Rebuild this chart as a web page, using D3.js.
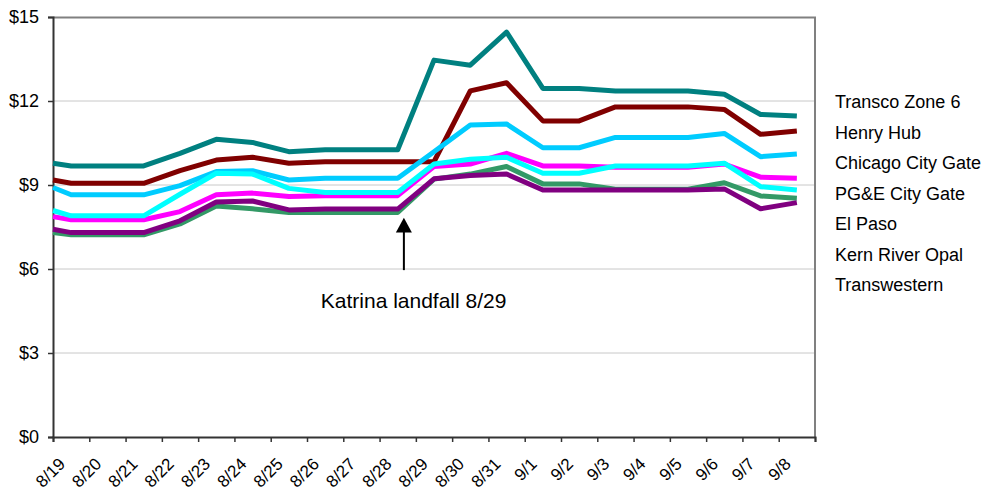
<!DOCTYPE html>
<html>
<head>
<meta charset="utf-8">
<script src="https://cdnjs.cloudflare.com/ajax/libs/d3/7.8.5/d3.min.js"></script>
<style>
  body { margin: 0; background: #fff; }
  text { font-family: "Liberation Sans", Arial, sans-serif; fill: #000; }
</style>
</head>
<body>
<div id="chart"></div>
<script>
// daily spot prices, $/MMBtu. first value in each series is the carry-in at the axis edge
const dates = ['8/19', '8/20', '8/21', '8/22', '8/23', '8/24', '8/25', '8/26', '8/27', '8/28',
  '8/29', '8/30', '8/31', '9/1', '9/2', '9/3', '9/4', '9/5', '9/6', '9/7', '9/8'];

const transco = [9.78, 9.68, 9.68, 9.68, 10.13, 10.63, 10.52, 10.19, 10.26, 10.26, 10.26,
  13.46, 13.28, 14.46, 12.45, 12.45, 12.36, 12.36, 12.36, 12.24, 11.52, 11.46];
const henryHub = [9.18, 9.06, 9.06, 9.06, 9.51, 9.89, 9.99, 9.78, 9.83, 9.83, 9.83,
  9.83, 12.36, 12.65, 11.29, 11.29, 11.79, 11.79, 11.79, 11.70, 10.81, 10.93];
const chicago = [8.91, 8.65, 8.65, 8.65, 8.98, 9.48, 9.51, 9.18, 9.24, 9.24, 9.24,
  10.19, 11.14, 11.18, 10.33, 10.33, 10.70, 10.70, 10.70, 10.84, 10.01, 10.11];
const pge = [7.87, 7.76, 7.76, 7.76, 8.05, 8.65, 8.71, 8.59, 8.62, 8.62, 8.62,
  9.66, 9.75, 10.13, 9.68, 9.68, 9.63, 9.63, 9.63, 9.75, 9.28, 9.24];
const elPaso = [8.09, 7.90, 7.90, 7.90, 8.67, 9.42, 9.39, 8.88, 8.73, 8.73, 8.73,
  9.75, 9.92, 9.99, 9.42, 9.42, 9.68, 9.68, 9.68, 9.78, 8.94, 8.82];
const kernRiver = [7.30, 7.22, 7.22, 7.22, 7.61, 8.25, 8.15, 8.02, 8.02, 8.02, 8.02,
  9.21, 9.39, 9.66, 9.04, 9.04, 8.85, 8.85, 8.85, 9.08, 8.61, 8.53];
const transwestern = [7.42, 7.30, 7.30, 7.30, 7.72, 8.39, 8.43, 8.11, 8.14, 8.14, 8.14,
  9.22, 9.34, 9.39, 8.82, 8.82, 8.82, 8.82, 8.82, 8.86, 8.15, 8.37];

const seriesNames = ['Transco Zone 6', 'Henry Hub', 'Chicago City Gate', 'PG&E City Gate',
  'El Paso', 'Kern River Opal', 'Transwestern'];
const seriesValues = [transco, henryHub, chicago, pge, elPaso, kernRiver, transwestern];
const seriesColors = ['#008080', '#800000', '#00ccff', '#ff00ff', '#00ffff', '#339966', '#800080'];

const yTicks = [0, 3, 6, 9, 12, 15];

const width = 986, height = 493;
const margin = {top: 17, left: 53, right: 171, bottom: 56};
const plotW = width - margin.left - margin.right;
const plotH = height - margin.top - margin.bottom;

const svg = d3.select('#chart').append('svg')
  .attr('width', width)
  .attr('height', height);

const g = svg.append('g')
  .attr('transform', 'translate(' + margin.left + ',' + margin.top + ')');

// categories are centred between tick marks
const x = d3.scaleLinear()
  .domain([-0.5, dates.length - 0.5])
  .range([0, plotW]);

const y = d3.scaleLinear()
  .domain([0, 15])
  .range([plotH, 0]);

// gridlines
g.selectAll('line.grid')
  .data(yTicks.filter(d => d > 0 && d < 15))
  .enter().append('line')
  .attr('class', 'grid')
  .attr('x1', 0).attr('x2', plotW)
  .attr('y1', d => y(d)).attr('y2', d => y(d))
  .attr('stroke', '#c8c8c8')
  .attr('stroke-width', 1);

// top / right frame
g.append('path')
  .attr('d', 'M0,0.5 H' + plotW + ' V' + plotH)
  .attr('fill', 'none')
  .attr('stroke', '#808080')
  .attr('stroke-width', 2);

// y axis
const yAxis = g.append('g')
  .call(d3.axisLeft(y).tickValues(yTicks).tickSize(5).tickPadding(9).tickFormat(d => '$' + d));
yAxis.select('.domain').attr('stroke', '#333').attr('stroke-width', 2);
yAxis.selectAll('.tick line').attr('stroke', '#333').attr('stroke-width', 1.5);
yAxis.selectAll('.tick text')
  .style('font-size', '18px')
  .style('font-family', '"Liberation Sans", Arial, sans-serif')
  .attr('fill', '#000');

// x axis: ticks on category boundaries
const bounds = d3.range(dates.length + 1).map(i => i - 0.5);
const xAxis = g.append('g')
  .attr('transform', 'translate(0,' + plotH + ')')
  .call(d3.axisBottom(x).tickValues(bounds).tickSize(5).tickFormat(''));
xAxis.select('.domain').attr('stroke', '#333').attr('stroke-width', 2);
xAxis.selectAll('.tick line').attr('stroke', '#333').attr('stroke-width', 1.5);

g.selectAll('text.xlab')
  .data(dates)
  .enter().append('text')
  .attr('class', 'xlab')
  .attr('text-anchor', 'end')
  .style('font-size', '17px')
  .attr('transform', (d, i) => 'translate(' + (x(i) - 5) + ',' + (plotH + 28) + ') rotate(-45)')
  .text(d => d);

// lines
const line = d3.line()
  .x((d, i) => x(i === 0 ? -0.5 : i - 1))
  .y(d => y(d));

g.selectAll('path.series')
  .data(seriesValues)
  .enter().append('path')
  .attr('class', 'series')
  .attr('d', d => line(d))
  .attr('fill', 'none')
  .attr('stroke', (d, i) => seriesColors[i])
  .attr('stroke-width', 5)
  .attr('stroke-linejoin', 'round');

// Katrina annotation
const arrowX = x(9.17);
g.append('line')
  .attr('x1', arrowX).attr('x2', arrowX)
  .attr('y1', y(5.96)).attr('y2', y(7.4))
  .attr('stroke', '#000')
  .attr('stroke-width', 2);
g.append('path')
  .attr('d', 'M' + arrowX + ',' + y(7.83) + ' L' + (arrowX - 8) + ',' + y(7.3) +
    ' L' + (arrowX + 8) + ',' + y(7.3) + ' Z')
  .attr('fill', '#000');
g.append('text')
  .attr('x', x(6.88))
  .attr('y', y(4.62))
  .style('font-size', '21px')
  .text('Katrina landfall 8/29');

// legend (text only)
svg.append('g')
  .selectAll('text')
  .data(seriesNames)
  .enter().append('text')
  .attr('x', 835)
  .attr('y', (d, i) => 102 + i * 30.5)
  .attr('dy', '0.35em')
  .style('font-size', '18px')
  .text(d => d);
</script>
</body>
</html>
